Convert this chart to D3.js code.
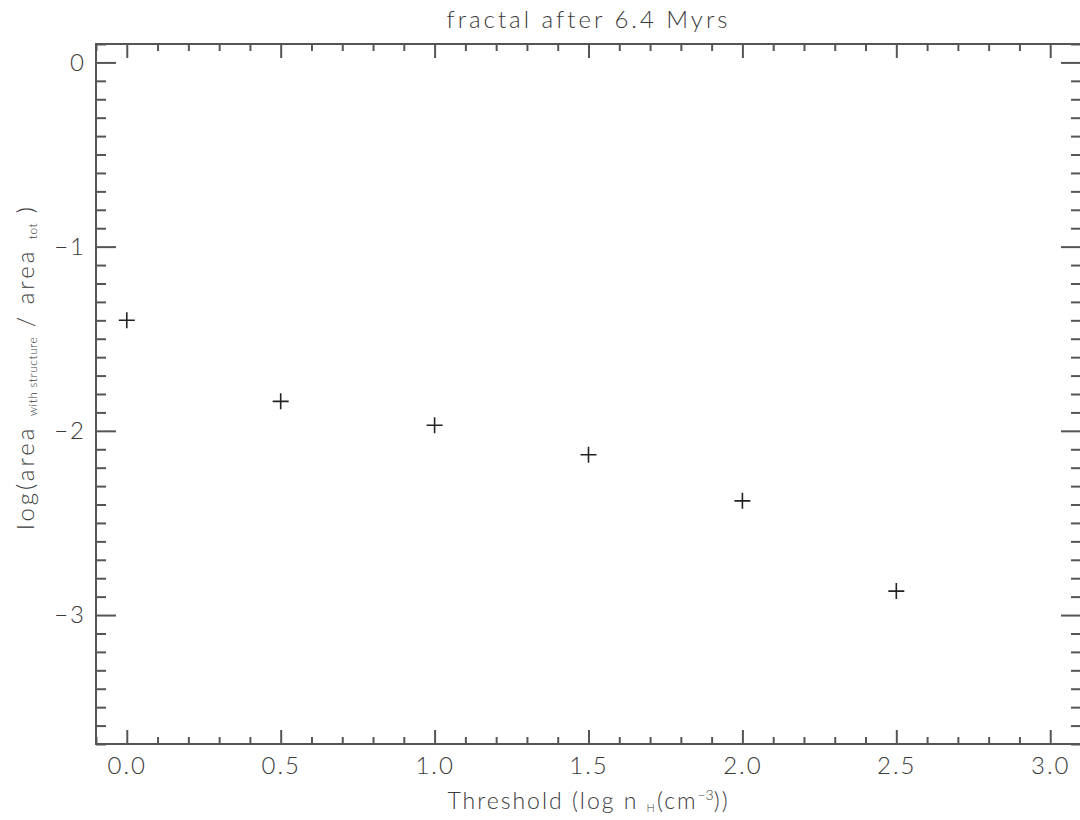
<!DOCTYPE html>
<html>
<head>
<meta charset="utf-8">
<script src="https://cdn.jsdelivr.net/npm/d3@7"></script>
<style>
  body { margin: 0; background: #fff; }
  text { font-family: "Lato", "DejaVu Sans", sans-serif; font-weight: 300; fill: #3a3a3a; }
</style>
</head>
<body>
<script>
// threshold density (log n_H) and log of area fraction with structure
var thresholds = [0.0, 0.5, 1.0, 1.5, 2.0, 2.5];
var logArea = [-1.40, -1.84, -1.97, -2.13, -2.38, -2.87];

var xMajor = [0.0, 0.5, 1.0, 1.5, 2.0, 2.5, 3.0];
var yMajor = [0, -1, -2, -3];

var width = 1080, height = 820;
var svg = d3.select("body").append("svg")
    .attr("width", width)
    .attr("height", height);

var x = d3.scaleLinear().domain([-0.1, 3.1]).range([96, 1081]);
var y = d3.scaleLinear().domain([-3.7, 0.1]).range([744, 44]);

var axisColor = "#555";

// minor tick values every 0.1
var xMinor = d3.range(-1, 32).map(d => d / 10).filter(d => xMajor.indexOf(d) < 0);
var yMinor = d3.range(-37, 2).map(d => d / 10).filter(d => yMajor.indexOf(d) < 0);

function styleAxis(g) {
    g.attr("font-family", null).attr("font-size", null);
    g.selectAll("line").attr("stroke", axisColor).attr("stroke-width", 2);
    g.select(".domain").remove();
    g.selectAll("text").attr("font-size", 24).attr("letter-spacing", 2).attr("fill", "#3a3a3a");
}

// bottom
svg.append("g").attr("transform", `translate(0,${y(-3.7)})`)
    .call(d3.axisBottom(x).tickValues(xMajor).tickSize(-14).tickPadding(13).tickFormat(d3.format(".1f")))
    .call(styleAxis);
svg.append("g").attr("transform", `translate(0,${y(-3.7)})`)
    .call(d3.axisBottom(x).tickValues(xMinor).tickSize(-7).tickFormat(""))
    .call(styleAxis);
// top
svg.append("g").attr("transform", `translate(0,${y(0.1)})`)
    .call(d3.axisTop(x).tickValues(xMajor).tickSize(-14).tickFormat(""))
    .call(styleAxis);
svg.append("g").attr("transform", `translate(0,${y(0.1)})`)
    .call(d3.axisTop(x).tickValues(xMinor).tickSize(-7).tickFormat(""))
    .call(styleAxis);
// left
svg.append("g").attr("transform", `translate(${x(-0.1)},0)`)
    .call(d3.axisLeft(y).tickValues(yMajor).tickSize(-20).tickPadding(10).tickFormat(d => d === 0 ? "0" : "\u2212" + Math.abs(d)))
    .call(styleAxis);
svg.append("g").attr("transform", `translate(${x(-0.1)},0)`)
    .call(d3.axisLeft(y).tickValues(yMinor).tickSize(-10).tickFormat(""))
    .call(styleAxis);
// right
svg.append("g").attr("transform", `translate(${x(3.1)},0)`)
    .call(d3.axisRight(y).tickValues(yMajor).tickSize(-20).tickFormat(""))
    .call(styleAxis);
svg.append("g").attr("transform", `translate(${x(3.1)},0)`)
    .call(d3.axisRight(y).tickValues(yMinor).tickSize(-10).tickFormat(""))
    .call(styleAxis);

// frame
svg.append("rect")
    .attr("x", x(-0.1)).attr("y", y(0.1))
    .attr("width", x(3.1) - x(-0.1)).attr("height", y(-3.7) - y(0.1))
    .attr("fill", "none").attr("stroke", axisColor).attr("stroke-width", 2);

// data crosses
svg.selectAll(".pt")
    .data(thresholds.map((t, i) => ({ t: t, v: logArea[i] })))
    .enter().append("path")
    .attr("class", "pt")
    .attr("transform", d => `translate(${x(d.t)},${y(d.v)})`)
    .attr("d", "M-8,0H8M0,-8V8")
    .attr("stroke", "#222")
    .attr("stroke-width", 1.6);

// title
svg.append("text")
    .attr("x", (x(-0.1) + x(3.1)) / 2).attr("y", 28)
    .attr("text-anchor", "middle")
    .attr("font-size", 24)
    .attr("letter-spacing", 3)
    .text("fractal after 6.4 Myrs");

// x label
var xl = svg.append("text")
    .attr("x", (x(-0.1) + x(3.1)) / 2).attr("y", 809)
    .attr("text-anchor", "middle")
    .attr("font-size", 23)
    .attr("letter-spacing", 2);
xl.append("tspan").text("Threshold (log n  ");
xl.append("tspan").attr("font-size", 11).attr("dy", 3).text("H");
xl.append("tspan").attr("dy", -3).text("(cm");
xl.append("tspan").attr("font-size", 14).attr("dy", -9).attr("letter-spacing", 0).text("\u22123");
xl.append("tspan").attr("dy", 9).text("))");

// y label
var yl = svg.append("text")
    .attr("transform", `translate(34,367) rotate(-90)`)
    .attr("text-anchor", "middle")
    .attr("font-size", 24)
    .attr("letter-spacing", 3);
yl.append("tspan").text("log(area  ");
yl.append("tspan").attr("font-size", 12).attr("letter-spacing", 0.5).attr("dy", 3).text("with structure");
yl.append("tspan").attr("dy", -3).text("  /  area  ");
yl.append("tspan").attr("font-size", 12).attr("letter-spacing", 0.5).attr("dy", 3).text("tot");
yl.append("tspan").attr("dy", -3).text(" )");
</script>
</body>
</html>
